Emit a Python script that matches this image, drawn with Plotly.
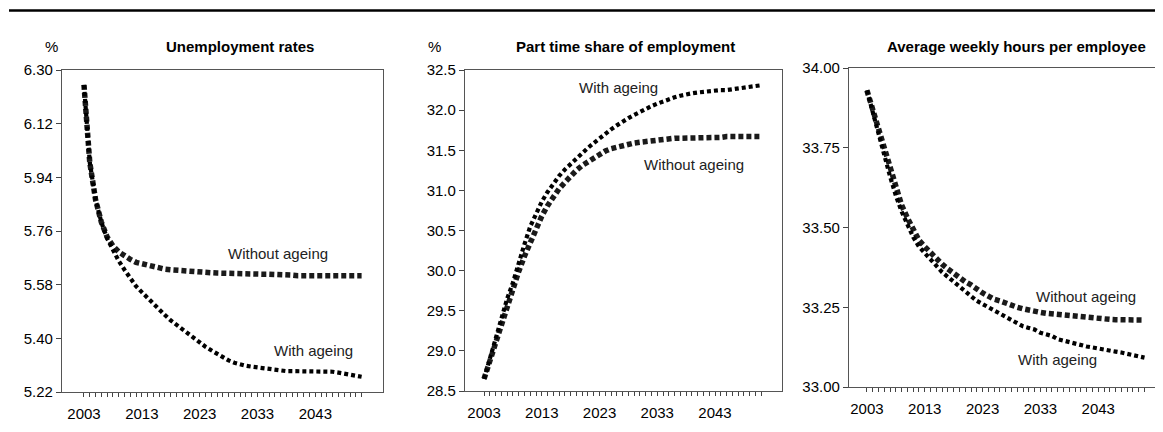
import plotly.graph_objects as go

years = list(range(2003, 2052))

unemp_without = [6.25, 5.99, 5.865, 5.79, 5.74, 5.71, 5.69, 5.675, 5.665, 5.655,
                 5.65, 5.645, 5.64, 5.635, 5.632, 5.63, 5.628, 5.626, 5.624, 5.622,
                 5.621, 5.62, 5.62, 5.619, 5.618, 5.617, 5.617, 5.616, 5.616, 5.616,
                 5.615, 5.615, 5.615, 5.615, 5.614, 5.614, 5.612, 5.61, 5.61, 5.61,
                 5.61, 5.61, 5.61, 5.61, 5.61, 5.61, 5.61, 5.61, 5.61]
unemp_with = [6.25, 5.99, 5.865, 5.79, 5.735, 5.695, 5.66, 5.63, 5.60, 5.575,
              5.555, 5.535, 5.515, 5.495, 5.478, 5.46, 5.445, 5.43, 5.415, 5.40,
              5.387, 5.372, 5.36, 5.348, 5.336, 5.326, 5.318, 5.312, 5.308, 5.305,
              5.302, 5.299, 5.296, 5.293, 5.291, 5.29, 5.29, 5.29, 5.29, 5.29,
              5.29, 5.29, 5.29, 5.288, 5.285, 5.282, 5.279, 5.275, 5.271]

pt_with = [28.65, 28.92, 29.15, 29.40, 29.65, 29.85, 30.10, 30.33, 30.55, 30.72,
           30.86, 30.98, 31.09, 31.18, 31.26, 31.33, 31.40, 31.47, 31.53, 31.59,
           31.65, 31.71, 31.76, 31.81, 31.86, 31.90, 31.94, 31.98, 32.01, 32.05,
           32.08, 32.11, 32.14, 32.16, 32.18, 32.20, 32.21, 32.22, 32.23, 32.24,
           32.24, 32.25, 32.25, 32.26, 32.27, 32.28, 32.29, 32.30, 32.31]
pt_without = [28.65, 28.88, 29.10, 29.33, 29.56, 29.78, 29.99, 30.18, 30.36, 30.53,
              30.68, 30.81, 30.92, 31.02, 31.10, 31.18, 31.25, 31.31, 31.36, 31.41,
              31.45, 31.49, 31.52, 31.54, 31.56, 31.58, 31.59, 31.60, 31.61, 31.62,
              31.63, 31.64, 31.64, 31.65, 31.65, 31.65, 31.66, 31.66, 31.66, 31.66,
              31.66, 31.66, 31.67, 31.67, 31.67, 31.67, 31.67, 31.67, 31.67]

hours_with = [33.93, 33.86, 33.79, 33.72, 33.66, 33.60, 33.55, 33.51, 33.47, 33.44,
              33.42, 33.40, 33.38, 33.36, 33.345, 33.33, 33.315, 33.30, 33.285, 33.27,
              33.26, 33.25, 33.24, 33.23, 33.22, 33.21, 33.20, 33.19, 33.185, 33.18,
              33.17, 33.165, 33.16, 33.15, 33.145, 33.14, 33.135, 33.13, 33.127, 33.124,
              33.12, 33.117, 33.114, 33.111, 33.108, 33.104, 33.10, 33.096, 33.092]
hours_without = [33.93, 33.87, 33.80, 33.74, 33.68, 33.62, 33.57, 33.53, 33.49, 33.46,
                 33.44, 33.42, 33.40, 33.385, 33.37, 33.355, 33.34, 33.33, 33.32, 33.305,
                 33.295, 33.285, 33.275, 33.27, 33.262, 33.255, 33.25, 33.245, 33.24, 33.237,
                 33.234, 33.231, 33.229, 33.226, 33.224, 33.222, 33.22, 33.218, 33.216, 33.215,
                 33.214, 33.213, 33.212, 33.211, 33.21, 33.21, 33.21, 33.21, 33.21]

titles = ["Unemployment rates", "Part time share of employment", "Average weekly hours per employee"]
unit_labels = ["%", "%", ""]
x_tick_text = [str(y) if (y - 2003) % 10 == 0 else "" for y in years]

# page body has an 8px margin, so the figure is drawn 8px smaller and offset
OFF = 8
W, H = 1163 - OFF, 432 - OFF
FONT = "Liberation Sans, Arial, sans-serif"

def px_x(p):
    return (p - OFF) / W

def px_y(p):
    return 1 - (p - OFF) / H

fig = go.Figure()

panels = [
    dict(data=(unemp_without, unemp_with), xd=(62, 383), yd=(70, 392),
         xr=(1999.2, 2054.7), yr=(5.22, 6.30),
         yt=[5.22, 5.40, 5.58, 5.76, 5.94, 6.12, 6.30], fmt=".2f", ymirror=True),
    dict(data=(pt_without, pt_with), xd=(465, 782), yd=(70, 391),
         xr=(1999.7, 2054.6), yr=(28.5, 32.5),
         yt=[28.5, 29.0, 29.5, 30.0, 30.5, 31.0, 31.5, 32.0, 32.5], fmt=".1f", ymirror=True),
    dict(data=(hours_without, hours_with), xd=(849, 1163), yd=(68, 387),
         xr=(1999.9, 2054.2), yr=(33.0, 34.0),
         yt=[33.0, 33.25, 33.5, 33.75, 34.0], fmt=".2f", ymirror=False),
]

for i, p in enumerate(panels, start=1):
    xa = "x" if i == 1 else f"x{i}"
    ya = "y" if i == 1 else f"y{i}"
    wo, wi = p["data"]
    fig.add_trace(go.Scatter(x=years, y=wo, xaxis=xa, yaxis=ya, mode="lines",
                             line=dict(color="#1a1a1a", width=5.5, dash="5px,3px"),
                             showlegend=False, hoverinfo="skip"))
    fig.add_trace(go.Scatter(x=years, y=wi, xaxis=xa, yaxis=ya, mode="lines",
                             line=dict(color="#000000", width=4.2, dash="4px,3px"),
                             showlegend=False, hoverinfo="skip"))
    xkey = "xaxis" if i == 1 else f"xaxis{i}"
    ykey = "yaxis" if i == 1 else f"yaxis{i}"
    fig.layout[xkey] = dict(
        domain=[px_x(p["xd"][0]), min(1.0, px_x(p["xd"][1]))], range=list(p["xr"]),
        anchor=ya, tickmode="array", tickvals=years, ticktext=x_tick_text,
        ticks="outside", ticklen=4, tickcolor="#444", tickwidth=1,
        showline=True, linecolor="#555", linewidth=1.3, mirror=True,
        showgrid=False, zeroline=False, ticklabelstandoff=4, automargin=False,
        tickfont=dict(family=FONT, size=15, color="#000"))
    fig.layout[ykey] = dict(
        domain=[px_y(p["yd"][1]), px_y(p["yd"][0])], range=list(p["yr"]),
        anchor=xa, tickmode="array", tickvals=p["yt"], tickformat=p["fmt"],
        ticks="outside", ticklen=5, tickcolor="#444", tickwidth=1,
        showline=True, linecolor="#555", linewidth=1.3, mirror=p["ymirror"],
        showgrid=False, zeroline=False, automargin=False,
        tickfont=dict(family=FONT, size=15, color="#000"))

annotations = []
title_pos = [(240, 46), (625, 46), (1016, 46)]
unit_pos = [(51, 46), (434, 46), None]
for t, (tx, ty) in zip(titles, title_pos):
    annotations.append(dict(text=f"<b>{t}</b>", x=px_x(tx), y=px_y(ty), xref="paper", yref="paper",
                            xanchor="center", yanchor="middle", showarrow=False,
                            font=dict(family=FONT, size=15, color="#000")))
for u, pos in zip(unit_labels, unit_pos):
    if pos:
        annotations.append(dict(text=u, x=px_x(pos[0]), y=px_y(pos[1]), xref="paper", yref="paper",
                                xanchor="center", yanchor="middle", showarrow=False,
                                font=dict(family=FONT, size=15, color="#000")))

series_labels = [
    ("Without ageing", 278, 253), ("With ageing", 313, 350),
    ("With ageing", 618, 88), ("Without ageing", 694, 164),
    ("Without ageing", 1086, 296), ("With ageing", 1057, 359),
]
for txt, lx, ly in series_labels:
    annotations.append(dict(text=txt, x=px_x(lx), y=px_y(ly), xref="paper", yref="paper",
                            xanchor="center", yanchor="middle", showarrow=False,
                            font=dict(family=FONT, size=15, color="#222")))

fig.update_layout(
    template="none",
    width=W, height=H, autosize=False,
    margin=dict(l=0, r=0, t=0, b=0, pad=0),
    paper_bgcolor="white", plot_bgcolor="white",
    annotations=annotations,
    shapes=[dict(type="line", xref="paper", yref="paper",
                 x0=px_x(9), x1=px_x(1163), y0=px_y(10.5), y1=px_y(10.5),
                 line=dict(color="#000", width=2.5))],
)

fig.write_html("out.html")
